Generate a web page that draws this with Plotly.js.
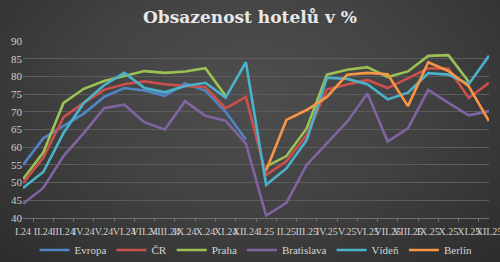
<!DOCTYPE html>
<html>
<head>
<meta charset="utf-8">
<script src="https://cdn.plot.ly/plotly-3.0.1.min.js"></script>
<style>
html,body{margin:0;padding:0;}
body{width:500px;height:262px;background:radial-gradient(ellipse at 50% 35%, #4e4e4e 0%, #434343 45%, #2c2c2c 100%);}
#chart{width:500px;height:262px;}
</style>
</head>
<body>
<div id="chart"></div>
<script>
const months = ["I.24","II.24","III.24","IV.24","V.24","VI.24","VII.24","VIII.24","IX.24","X.24","XI.24","XII.24",
                "I.25","II.25","III.25","IV.25","V.25","VI.25","VII.25","VIII.25","IX.25","X.25","XI.25","XII.25"];
const evropa = [55, 62.5, 66, 69.5, 74.2, 76.7, 76, 74.5, 78, 76, 70, 62.2,
                null, null, null, null, null, null, null, null, null, null, null, null];
const cr = [49.8, 57, 68.5, 72.5, 76.2, 77.8, 78.6, 77.8, 77.3, 77, 71, 74.2,
            52.2, 56, 63.5, 76.3, 77.7, 79, 76.7, 79.5, 82.3, 82.2, 73.9, 78.2];
const praha = [51, 58.5, 72.5, 76.5, 78.7, 80, 81.5, 81, 81.4, 82.3, 74.5, null,
               54.5, 57.5, 65.3, 80.5, 81.9, 82.6, 79.8, 81.4, 85.8, 86, 78.5, null];
const bratislava = [44, 48.5, 57.5, 64, 71, 72, 67, 65, 73, 68.9, 67.5, 61,
                    40.7, 44.3, 55, 61, 67.2, 75.2, 61.6, 65.3, 76.2, 72.5, 69, 70.2];
const viden = [48.5, 53, 64, 72.5, 77.5, 81, 76.7, 75.5, 77.3, 78.2, 74, 84,
               49.4, 54, 62, 79.6, 79.3, 77.8, 73.5, 75.4, 80.9, 80.5, 77.8, 85.8];
const berlin = [null, null, null, null, null, null, null, null, null, null, null, null,
                53.4, 67.7, 70.5, 74.2, 80.5, 81, 80.6, 71.6, 84, 81.5, 77.2, 67.4];
const seriesNames = ["Evropa", "ČR", "Praha", "Bratislava", "Vídeň", "Berlín"];
const seriesData = [evropa, cr, praha, bratislava, viden, berlin];
const seriesColors = ["#4f85c4", "#cb504d", "#9bc155", "#8064a2", "#4bb2cc", "#f79646"];

const traces = seriesNames.map((n, i) => ({
  type: "scatter", mode: "lines", name: n, x: months, y: seriesData[i],
  line: {color: seriesColors[i], width: 2.6}, connectgaps: false
}));

const serif = "Liberation Serif, DejaVu Serif, serif";
const layout = {
  width: 500, height: 262,
  paper_bgcolor: "rgba(0,0,0,0)", plot_bgcolor: "rgba(0,0,0,0)",
  margin: {l: 23, r: 11, t: 41, b: 44},
  title: {text: "<b>Obsazenost hotelů v %</b>", font: {family: "DejaVu Serif, serif", size: 17, color: "#e8e8e8"},
          x: 0.5, xanchor: "center", y: 0.935, yanchor: "middle"},
  showlegend: true,
  legend: {orientation: "h", x: 0.5, xanchor: "center", xref: "paper",
           yref: "container", y: 0.046, yanchor: "middle",
           font: {family: serif, size: 11, color: "#d4d4d4"}, bgcolor: "rgba(0,0,0,0)", itemwidth: 30,
           tracegroupgap: 0},
  xaxis: {type: "category", tickmode: "array", tickvals: months, ticktext: months, tickangle: 0,
          tickson: "boundaries", ticks: "outside", ticklen: 3, tickcolor: "#707070",
          ticklabelstandoff: 4, automargin: false,
          showgrid: false, showline: true, linecolor: "#707070", linewidth: 1,
          tickfont: {family: serif, size: 10, color: "#cfcfcf"}, fixedrange: true},
  yaxis: {range: [40, 90], dtick: 5, tick0: 40, showgrid: true, gridcolor: "#5c5c5c", gridwidth: 1,
          zeroline: false, showline: false, ticks: "", ticklen: 0, automargin: false,
          tickfont: {family: serif, size: 11, color: "#cfcfcf"}, fixedrange: true}
};
Plotly.newPlot("chart", traces, layout, {displayModeBar: false, staticPlot: true});
</script>
</body>
</html>
